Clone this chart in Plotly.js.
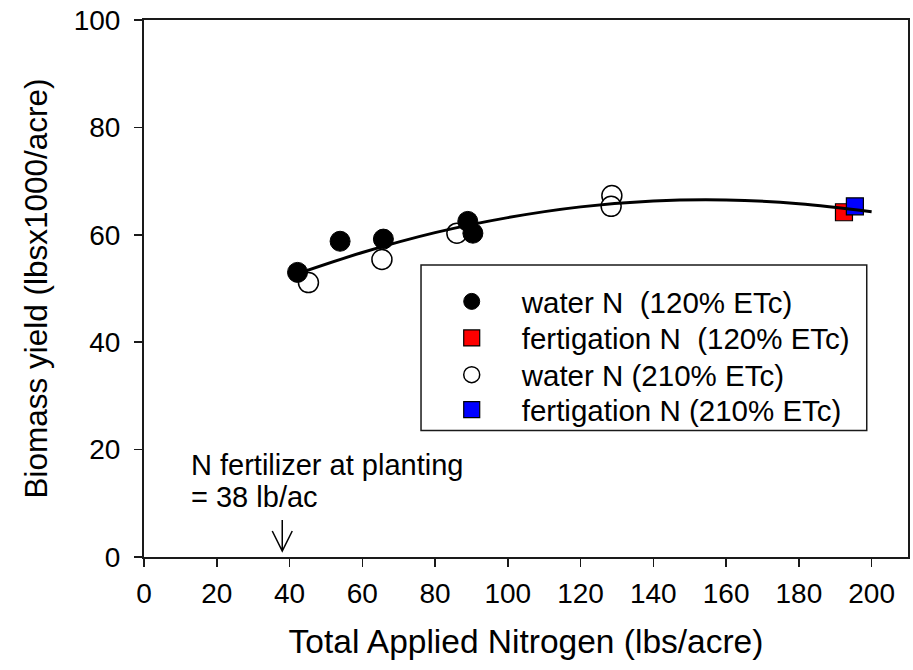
<!DOCTYPE html>
<html>
<head>
<meta charset="utf-8">
<script src="https://cdn.plot.ly/plotly-3.0.1.min.js"></script>
<style>
  html, body { margin: 0; padding: 0; background: #fff; }
  #chart { width: 913px; height: 670px; }
</style>
</head>
<body>
<div id="chart"></div>
<script>
// Biomass yield response to total applied nitrogen

// water-run N, 120% ETc irrigation
const water120X = [42.2, 53.9, 65.8, 89.0, 90.4];
const water120Y = [53.0, 58.8, 59.2, 62.5, 60.3];
// water-run N, 210% ETc irrigation
const water210X = [45.2, 65.4, 86.0, 128.6, 128.4];
const water210Y = [51.1, 55.4, 60.3, 67.3, 65.3];
// fertigation N
const fert120X = [192.4];
const fert120Y = [64.2];
const fert210X = [195.4];
const fert210Y = [65.3];
// fitted response curve, sampled along its length
const fitX = [42, 60, 80, 100, 120, 140, 160, 180, 200];
const fitY = [52.7, 56.7, 60.4, 63.2, 65.2, 66.3, 66.5, 65.8, 64.3];

const seriesNames = [
  'water N\u00a0 (120% ETc)',
  'fertigation N\u00a0 (120% ETc)',
  'water N (210% ETc)',
  'fertigation N (210% ETc)'
];
const plantingN = 38;
const plantingLines = ['N fertilizer at planting', '= ' + plantingN + ' lb/ac'];
const xTicks = [0, 20, 40, 60, 80, 100, 120, 140, 160, 180, 200];
const yTicks = [0, 20, 40, 60, 80, 100];

const FONT = 'Liberation Sans, Arial, Helvetica, sans-serif';
const INK = '#1a1a1a';

const traces = [
  {
    x: water210X, y: water210Y, type: 'scatter', mode: 'markers',
    name: seriesNames[2], legend: 'legend3',
    marker: { symbol: 'circle', size: 20, color: '#ffffff', line: { color: '#000', width: 1.5 } }
  },
  {
    x: water120X, y: water120Y, type: 'scatter', mode: 'markers',
    name: seriesNames[0], legend: 'legend',
    marker: { symbol: 'circle', size: 20, color: '#000000', line: { color: '#000', width: 1 } }
  },
  {
    x: fert120X, y: fert120Y, type: 'scatter', mode: 'markers',
    name: seriesNames[1], legend: 'legend2',
    marker: { symbol: 'square', size: 17, color: '#ff0000', line: { color: '#000', width: 1.2 } }
  },
  {
    x: fert210X, y: fert210Y, type: 'scatter', mode: 'markers',
    name: seriesNames[3], legend: 'legend4',
    marker: { symbol: 'square', size: 17, color: '#0000ff', line: { color: '#000', width: 1.2 } }
  },
  {
    x: fitX, y: fitY, type: 'scatter', mode: 'lines',
    line: { color: '#000', width: 3, shape: 'spline', smoothing: 1 },
    showlegend: false, hoverinfo: 'skip'
  }
];

// one legend per entry so each row sits at its own height inside a shared frame
function legendAt(yPaper) {
  return {
    x: 0.3635, xanchor: 'left', y: yPaper, yanchor: 'middle',
    bgcolor: 'rgba(0,0,0,0)', borderwidth: 0, itemwidth: 90,
    font: { family: FONT, size: 29.5, color: '#000' }
  };
}

const axisCommon = {
  showgrid: false, zeroline: false,
  showline: true, linecolor: INK, linewidth: 2, mirror: true,
  ticks: 'outside', ticklen: 8, tickwidth: 1.5, tickcolor: INK,
  tickfont: { family: FONT, size: 28, color: '#000' },
  fixedrange: true
};

const layout = {
  width: 913, height: 670,
  margin: { l: 144, r: 5, t: 20, b: 113, pad: 0 },
  paper_bgcolor: '#fff', plot_bgcolor: '#fff',
  font: { family: FONT, color: '#000' },
  xaxis: Object.assign({}, axisCommon, {
    range: [0, 210], tickvals: xTicks, ticktext: xTicks.map(String),
    ticklabelstandoff: 2,
    title: { text: 'Total Applied Nitrogen (lbs/acre)', font: { family: FONT, size: 33.5, color: '#000' }, standoff: 22 }
  }),
  yaxis: Object.assign({}, axisCommon, {
    range: [0, 100], tickvals: yTicks, ticktext: yTicks.map(String),
    ticklabelstandoff: 8,
    title: { text: 'Biomass yield (lbsx1000/acre)', font: { family: FONT, size: 31.5, color: '#000' }, standoff: 17 }
  }),
  legend: legendAt(0.4754),
  legend2: legendAt(0.4073),
  legend3: legendAt(0.3389),
  legend4: legendAt(0.2737),
  shapes: [
    // frame around the legend entries
    {
      type: 'rect', xref: 'paper', yref: 'paper',
      x0: 0.3626, x1: 0.946, y0: 0.2356, y1: 0.5438,
      line: { color: INK, width: 1.5 }, fillcolor: 'rgba(0,0,0,0)', layer: 'below'
    },
    // arrow pointing down to the planting rate on the x axis
    {
      type: 'path', xref: 'x', yref: 'y',
      xsizemode: 'pixel', xanchor: plantingN,
      ysizemode: 'pixel', yanchor: 0,
      path: 'M0,6 L0,37 M-10,26 L0,6 L10,26',
      line: { color: '#000', width: 1.5 }
    }
  ],
  annotations: [
    {
      xref: 'x', yref: 'y', x: 12.4, y: 17.15, xanchor: 'left', yanchor: 'middle',
      text: plantingLines[0], showarrow: false, align: 'left',
      font: { family: FONT, size: 29, color: '#000' }
    },
    {
      xref: 'x', yref: 'y', x: 12.4, y: 11.2, xanchor: 'left', yanchor: 'middle',
      text: plantingLines[1], showarrow: false, align: 'left',
      font: { family: FONT, size: 29, color: '#000' }
    }
  ],
  showlegend: true
};

Plotly.newPlot('chart', traces, layout, { displayModeBar: false, staticPlot: true });
</script>
</body>
</html>
